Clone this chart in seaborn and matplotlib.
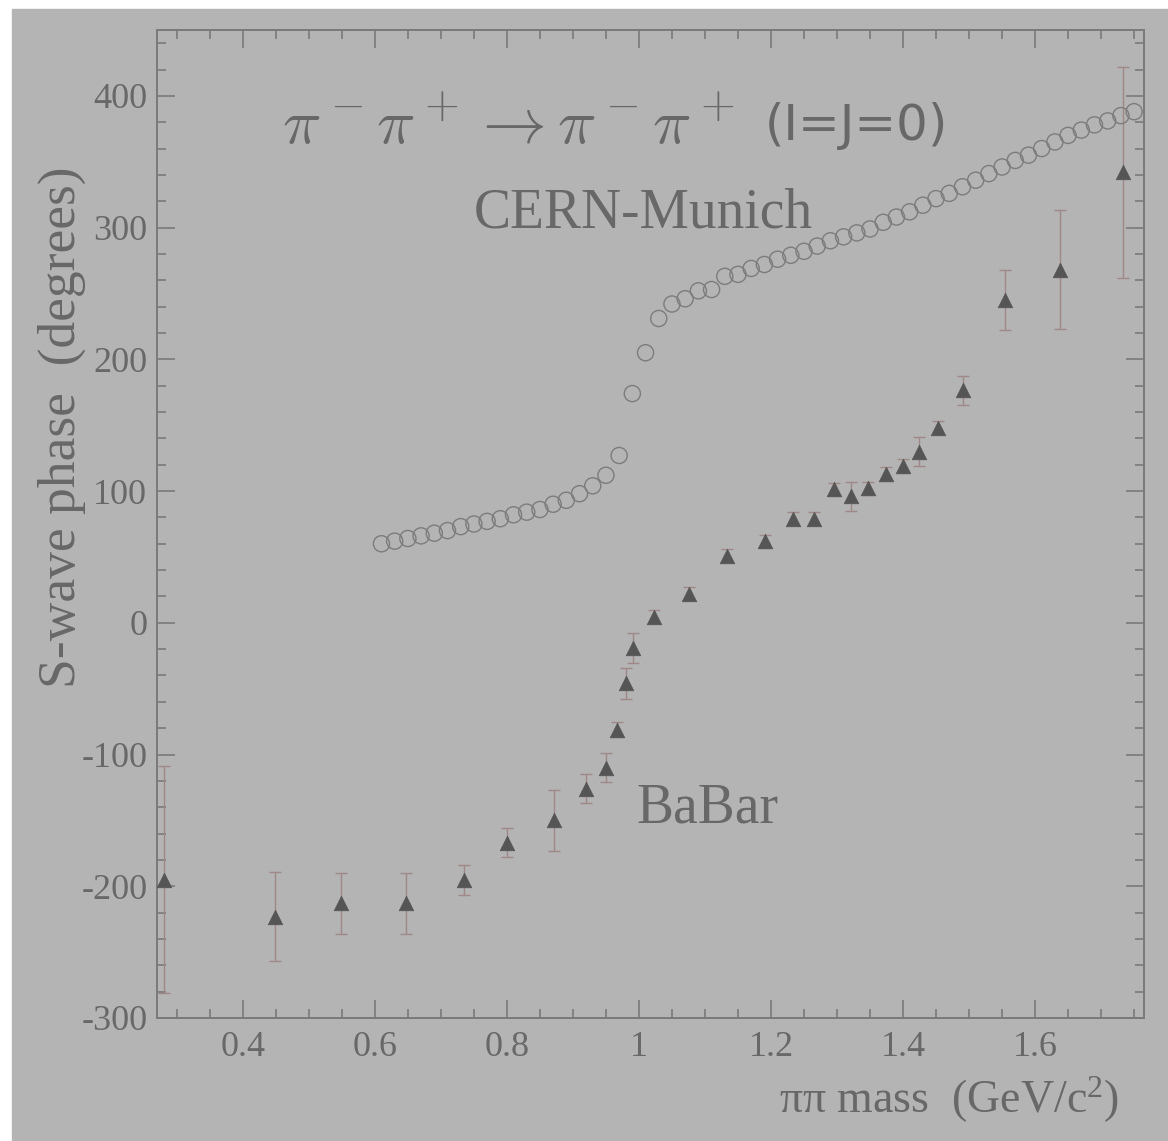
"""
S-wave pi pi phase (I=J=0): BaBar vs CERN-Munich, greyscale physics-plot style.
"""

import numpy as np
import matplotlib
matplotlib.use("Agg")
import matplotlib.pyplot as plt
from matplotlib.patches import Rectangle
from matplotlib.ticker import MultipleLocator, FuncFormatter
import seaborn as sns

# --- data ------------------------------------------------------------------
babar_mass = [0.280, 0.448, 0.548, 0.647, 0.735, 0.800, 0.871, 0.920, 0.950,
              0.967, 0.980, 0.991, 1.023, 1.076, 1.133, 1.191, 1.233, 1.265,
              1.295, 1.321, 1.347, 1.374, 1.400, 1.424, 1.453, 1.491, 1.555,
              1.638, 1.733]
babar_phase = [-195, -223, -213, -213, -195, -167, -150, -126, -110,
               -81, -46, -19, 4.5, 22, 51, 62, 79, 79,
               101.5, 96, 102, 113, 119, 130, 148, 176.5, 245,
               268, 342]
babar_err = [86, 34, 23, 23, 11.5, 11, 23, 11, 11,
             6, 11.5, 11.5, 5, 5, 5, 5, 5, 5,
             5, 11, 5, 5, 5, 11, 5, 11, 23,
             45, 80]

cern_mass = [0.61, 0.63, 0.65, 0.67, 0.69, 0.71, 0.73, 0.75, 0.77, 0.79,
             0.81, 0.83, 0.85, 0.87, 0.89, 0.91, 0.93, 0.95, 0.97, 0.99,
             1.01, 1.03, 1.05, 1.07, 1.09, 1.11, 1.13, 1.15, 1.17, 1.19,
             1.21, 1.23, 1.25, 1.27, 1.29, 1.31, 1.33, 1.35, 1.37, 1.39,
             1.41, 1.43, 1.45, 1.47, 1.49, 1.51, 1.53, 1.55, 1.57, 1.59,
             1.61, 1.63, 1.65, 1.67, 1.69, 1.71, 1.73, 1.75]
cern_phase = [60, 62, 64, 66, 68, 70, 73, 75, 77, 79,
              82, 84, 86, 90, 93, 98, 104, 112, 127, 174,
              205, 231, 242, 246, 252, 253, 263, 264.5, 269, 272,
              276, 279, 282, 286, 290, 293, 296, 299, 304, 308,
              312, 317, 322, 326, 331, 336, 341, 346, 351, 355,
              360, 365, 370, 374, 378, 381, 385, 388]

x_ticks = [0.4, 0.6, 0.8, 1.0, 1.2, 1.4, 1.6]
y_ticks = [-300, -200, -100, 0, 100, 200, 300, 400]

BG = "#b4b4b4"
TXT = "#686868"
AXC = "#7a7a7a"
SERIF = ["Liberation Serif", "DejaVu Serif"]

sns.set_theme(style="ticks")
plt.rcParams.update({
    "font.family": SERIF,
    "axes.unicode_minus": False,
    "axes.edgecolor": AXC,
    "axes.linewidth": 1.4,
    "xtick.color": AXC, "ytick.color": AXC,
    "xtick.labelcolor": TXT, "ytick.labelcolor": TXT,
    "mathtext.rm": "Liberation Serif",
    "mathtext.it": "Liberation Serif:italic",
    "mathtext.bf": "Liberation Serif:bold",
})

fig = plt.figure(figsize=(11.68, 11.41), dpi=100, facecolor="white")
fig.patches.append(Rectangle((12 / 1168, 0), 1, 1 - 9 / 1141,
                             transform=fig.transFigure, color=BG, zorder=-10))
ax = fig.add_axes([157 / 1168, 1 - 1018 / 1141, (1144 - 157) / 1168, (1018 - 30) / 1141])
ax.set_facecolor(BG)

# BaBar: error bars then filled triangles
ax.errorbar(babar_mass, babar_phase, yerr=babar_err, fmt="none",
            ecolor="#a08888", elinewidth=1.0, capsize=4.3, capthick=1.0, zorder=2)
sns.scatterplot(x=babar_mass, y=babar_phase, marker="^", s=110,
                color="#555555", edgecolor="#555555", linewidth=0.5, ax=ax, zorder=3)

# CERN-Munich: open circles
sns.scatterplot(x=cern_mass, y=cern_phase, marker="o", s=135,
                color="#808080", ax=ax, zorder=3)
circ = ax.collections[-1]
circ.set_facecolor("none")
circ.set_edgecolor("#7c7c7c")
circ.set_linewidth(1.0)

ax.set_xlim(0.27, 1.765)
ax.set_ylim(-300, 450)
ax.set_xticks(x_ticks)
ax.set_yticks(y_ticks)
ax.xaxis.set_minor_locator(MultipleLocator(0.05))
ax.yaxis.set_minor_locator(MultipleLocator(20))
ax.xaxis.set_major_formatter(FuncFormatter(lambda v, _: f"{v:g}"))
ax.tick_params(which="both", direction="in", top=True, right=True)
ax.tick_params(which="major", length=13, width=1.2, labelsize=26)
ax.tick_params(which="minor", length=6.5, width=1.2)
ax.tick_params(axis="x", which="major", pad=9)
ax.tick_params(axis="y", which="major", pad=7)
ax.set_xlabel("")
ax.set_ylabel("")

# annotations
ax.text(0.127, 0.8846, r"$\pi^-\pi^+ \rightarrow \pi^-\pi^+$", transform=ax.transAxes,
        fontsize=46, color=TXT, ha="left", va="baseline", math_fontfamily="cm")
ax.text(0.616, 0.8887, "(I=J=0)", transform=ax.transAxes, fontsize=36,
        color=TXT, ha="left", va="baseline", family=["DejaVu Sans"])
ax.text(0.4924, 0.8006, "CERN-Munich", transform=ax.transAxes, fontsize=40,
        color=TXT, ha="center", va="baseline")
ax.text(0.486, 0.198, "BaBar", transform=ax.transAxes, fontsize=40,
        color=TXT, ha="left", va="baseline")

fig.text(62 / 1168, 1 - 427 / 1141, "S-wave phase  (degrees)", rotation=90,
         fontsize=38.5, color=TXT, ha="center", va="center")
fig.text(1119 / 1168, 1 - 1113 / 1141, r"ππ mass  (GeV/c$^{\mathrm{2}}$)",
         fontsize=33, color=TXT, ha="right", va="baseline", math_fontfamily="custom")

fig.savefig("out.png", dpi=100, facecolor="white")
